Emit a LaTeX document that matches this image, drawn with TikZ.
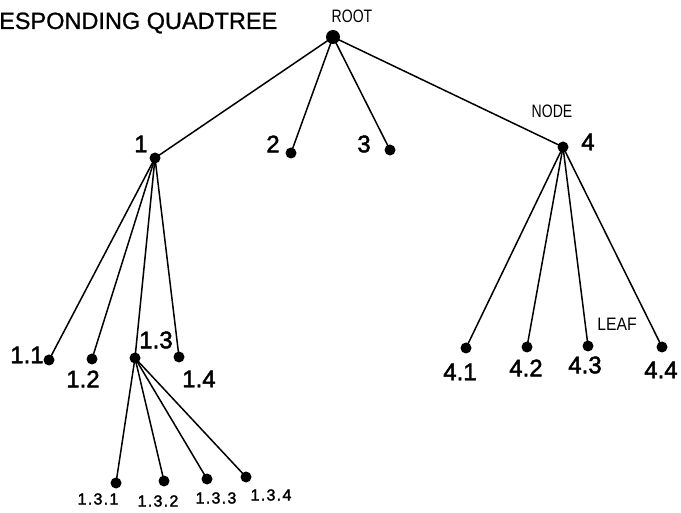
\documentclass[tikz,border=0pt]{standalone}
\usepackage{fontspec}
\setmainfont{Liberation Sans}
\begin{document}
\begin{tikzpicture}[x=1pt,y=-1pt,
  dot/.style={circle,fill=black,inner sep=0pt,minimum size=11pt},
  rootdot/.style={circle,fill=black,inner sep=0pt,minimum size=14pt},
  edge/.style={line width=1.5pt},
  biglabel/.style={inner sep=0pt,font=\fontsize{24}{24}\selectfont\addfontfeature{FakeBold=2}},
  smalllabel/.style={inner sep=0pt,font=\fontsize{16}{16}\selectfont\addfontfeature{LetterSpace=8,FakeBold=2}},
  tag/.style={inner sep=0pt,font=\fontsize{18}{18}\selectfont,xscale=0.78},
  title/.style={inner sep=0pt,anchor=west,font=\fontsize{23.5}{23.5}\selectfont\addfontfeature{FakeBold=1}}]
\useasboundingbox (0,0) rectangle (681,513);

% heading
\node[title] (heading) at (-1,23) {ESPONDING QUADTREE};

% tree nodes
\node[rootdot] (r) at (333,37) {};
\node[dot] (n1) at (155,158) {};
\node[dot] (n2) at (291,153) {};
\node[dot] (n3) at (390,150) {};
\node[dot] (n4) at (563,147) {};
\node[dot] (n11) at (49,360) {};
\node[dot] (n12) at (92,359) {};
\node[dot] (n13) at (135,358) {};
\node[dot] (n14) at (179,357) {};
\node[dot] (n131) at (116,483) {};
\node[dot] (n132) at (164,481) {};
\node[dot] (n133) at (207,479) {};
\node[dot] (n134) at (246,477) {};
\node[dot] (n41) at (466,348) {};
\node[dot] (n42) at (527,347) {};
\node[dot] (n43) at (588,346) {};
\node[dot] (n44) at (662,347) {};

% branches
\foreach \a/\b in {r/n1,r/n2,r/n3,r/n4,
                   n1/n11,n1/n12,n1/n13,n1/n14,
                   n13/n131,n13/n132,n13/n133,n13/n134,
                   n4/n41,n4/n42,n4/n43,n4/n44}
  \draw[edge] (\a.center) -- (\b.center);

% labels
\node[tag] (lroot) at (352,16) {ROOT};
\node[tag] (lnode) at (552,111) {NODE};
\node[tag,xscale=1.12] (lleaf) at (617,324) {LEAF};
\node[biglabel] (l1) at (141,144) {1};
\node[biglabel] (l2) at (273,144) {2};
\node[biglabel] (l3) at (364,144) {3};
\node[biglabel] (l4) at (588,142) {4};
\node[biglabel] (l11) at (27,355) {1.1};
\node[biglabel] (l12) at (83,379) {1.2};
\node[biglabel] (l13) at (156,340) {1.3};
\node[biglabel] (l14) at (199,379) {1.4};
\node[biglabel] (l41) at (460,372) {4.1};
\node[biglabel] (l42) at (526,368) {4.2};
\node[biglabel] (l43) at (585,365) {4.3};
\node[biglabel] (l44) at (661,370) {4.4};
\node[smalllabel] (l131) at (98,499) {1.3.1};
\node[smalllabel] (l132) at (158,501) {1.3.2};
\node[smalllabel] (l133) at (216,498) {1.3.3};
\node[smalllabel] (l134) at (271,495) {1.3.4};
\end{tikzpicture}
\end{document}
